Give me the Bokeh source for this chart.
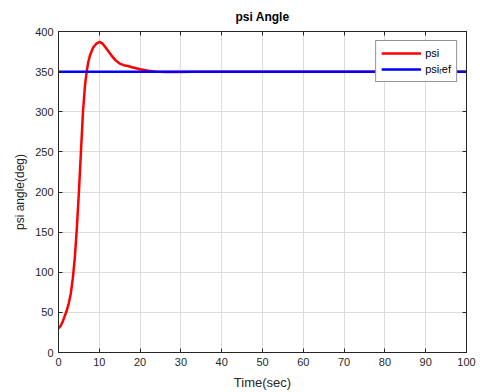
from bokeh.plotting import figure
from bokeh.models import LinearAxis, Range1d, FixedTicker, Legend, LegendItem, AllLabels
from bokeh.embed import file_html
from bokeh.resources import INLINE

# data
time_s = [0, 0.5, 1, 1.5, 2, 2.5, 3, 3.5, 4, 4.5, 5, 5.5, 6, 6.5, 6.9, 7.3, 7.7, 8.5, 9.3, 10.1, 10.8,
          12, 13, 14, 15, 16, 17, 18, 20, 22, 24, 26, 30, 35, 40, 50, 60, 70, 80, 90, 100]
psi = [30, 33, 38, 45, 52, 61, 73, 92, 118, 155, 200, 250, 300, 333, 350, 362, 370, 380, 385, 387, 385,
       377, 370, 364, 360, 358, 357, 355.5, 353, 351, 350, 349.5, 349.5, 350, 350, 350, 350, 350, 350, 350, 350]
ref_time = [0, 100]
psi_ref = [350, 350]
x_ticks = [0, 10, 20, 30, 40, 50, 60, 70, 80, 90, 100]
y_ticks = [0, 50, 100, 150, 200, 250, 300, 350, 400]

FONT = "Liberation Sans"
AX = "#262626"

p = figure(width=480, height=392, output_backend="svg", toolbar_location=None,
           x_range=Range1d(0, 100), y_range=Range1d(0, 400),
           min_border_left=58, min_border_right=14, min_border_top=31, min_border_bottom=39,
           title="psi Angle")
p.title.align = "center"
p.title.vertical_align = "top"
p.title.text_font = FONT
p.title.text_font_size = "12px"
p.title.text_font_style = "bold"
p.title.text_color = "#000000"
p.title.offset = 0
p.title.standoff = 12
p.outline_line_color = AX
p.outline_line_width = 1
p.background_fill_color = "white"
p.border_fill_color = "white"

r1 = p.line(time_s, psi, line_color="#ff0000", line_width=2.5)
r2 = p.line(ref_time, psi_ref, line_color="#0000ff", line_width=2.5)

def style_axis(ax):
    ax.ticker = FixedTicker(ticks=x_ticks if ax in p.xaxis else y_ticks)
    ax.major_label_policy = AllLabels()
    ax.axis_line_color = AX
    ax.major_tick_line_color = AX
    ax.major_tick_in = 4
    ax.major_tick_out = 0
    ax.minor_tick_line_color = None
    ax.major_label_text_font = FONT
    ax.major_label_text_font_size = "11px"
    ax.major_label_text_color = AX
    ax.axis_label_text_font = FONT
    ax.axis_label_text_font_style = "normal"
    ax.axis_label_text_color = AX

p.xaxis.axis_label = "Time(sec)"
p.yaxis.axis_label = "psi angle(deg)"
for ax in p.xaxis:
    style_axis(ax)
    ax.axis_label_text_font_size = "13px"
    ax.major_label_standoff = 5
    ax.axis_label_standoff = 6
for ax in p.yaxis:
    style_axis(ax)
    ax.axis_label_text_font_size = "12px"
    ax.major_label_standoff = 5
    ax.axis_label_standoff = 5

top = LinearAxis(ticker=FixedTicker(ticks=x_ticks),
                 major_label_overrides={t: "" for t in x_ticks})
right = LinearAxis(ticker=FixedTicker(ticks=y_ticks),
                   major_label_overrides={t: "" for t in y_ticks})
p.add_layout(top, "above")
p.add_layout(right, "right")
for ax in (top, right):
    ax.axis_line_color = AX
    ax.major_tick_line_color = AX
    ax.major_tick_in = 4
    ax.major_tick_out = 0
    ax.minor_tick_line_color = None
    ax.major_label_standoff = 0

p.xgrid.ticker = FixedTicker(ticks=x_ticks)
p.ygrid.ticker = FixedTicker(ticks=y_ticks)
p.grid.grid_line_color = "#dcdcdc"
p.grid.grid_line_width = 1

legend = Legend(items=[LegendItem(label="psi", renderers=[r1]),
                       LegendItem(label="psi\u1d63ef", renderers=[r2])],
                location="top_right")
legend.label_text_font = FONT
legend.label_text_font_size = "11px"
legend.label_text_color = "#000000"
legend.border_line_color = AX
legend.border_line_width = 1
legend.background_fill_color = "white"
legend.background_fill_alpha = 1
legend.glyph_width = 40
legend.glyph_height = 14
legend.label_height = 14
legend.spacing = 2
legend.padding = 5
legend.margin = 9
legend.label_standoff = 4
p.add_layout(legend)

open("out.html", "w").write(file_html(p, INLINE))
